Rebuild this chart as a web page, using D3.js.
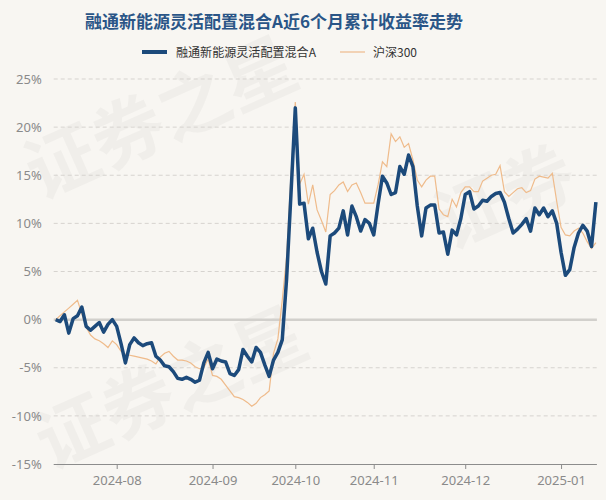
<!DOCTYPE html>
<html>
<head>
<meta charset="utf-8">
<script src="https://cdn.jsdelivr.net/npm/d3@7"></script>
<style>
  html, body { margin: 0; padding: 0; background: #f8f6f2; }
  #container { width: 606px; height: 500px; }
  text { font-family: "Noto Sans CJK SC", "Noto Sans", sans-serif; }
</style>
</head>
<body>
<div id="container"></div>
<script>
const title = "融通新能源灵活配置混合A近6个月累计收益率走势";
const seriesNames = ["融通新能源灵活配置混合A", "沪深300"];
const firstDay = "2024-07-12";
const lastDay = "2025-01-14";
const holidays = ["2024-09-16", "2024-09-17", "2024-10-01", "2024-10-02", "2024-10-03",
  "2024-10-04", "2024-10-07", "2025-01-01"];
const yTicks = [-15, -10, -5, 0, 5, 10, 15, 20, 25];

// cumulative return of the fund, % (one value per trading day)
const fundValues = [
  0.0, -0.2, 0.5, -1.4, 0.1, 0.4, 1.3, -0.7, -1.1, -0.7,
  -0.3, -1.3, -0.5, 0.0, -0.7, -2.5, -4.5, -2.6, -1.9, -2.4,
  -2.7, -2.5, -2.4, -3.8, -4.2, -4.8, -4.9, -5.4, -6.1, -6.2,
  -6.0, -6.2, -6.5, -6.3, -4.5, -3.4, -5.1, -4.1, -4.3, -4.4,
  -5.6, -5.8, -5.2, -3.1, -3.8, -4.4, -2.9, -3.4, -4.7, -5.9,
  -4.2, -3.4, -2.1, 4.2, 13.0, 22.0, 12.0, 12.1, 8.4, 9.5,
  7.0, 5.0, 3.7, 8.7, 9.0, 9.5, 11.3, 8.8, 11.8, 10.7,
  9.2, 10.4, 10.0, 8.8, 12.0, 14.9, 14.2, 13.0, 13.2, 15.9,
  15.1, 17.1, 15.9, 11.8, 8.7, 11.6, 11.9, 11.9, 9.0, 9.1,
  6.8, 9.3, 8.8, 10.5, 13.0, 13.3, 11.5, 11.8, 12.4, 12.3,
  12.8, 13.1, 13.2, 12.2, 10.5, 9.0, 9.4, 9.9, 10.5, 9.2,
  11.6, 10.9, 11.6, 10.7, 11.3, 10.0, 7.0, 4.6, 5.2, 7.5,
  9.0, 9.8, 9.2, 7.6, 12.2
];

// cumulative return of CSI 300, %
const indexValues = [
  0.0, 0.4, 0.8, 1.2, 1.6, 2.0, 0.6, -0.8, -1.6, -2.0,
  -2.2, -2.5, -2.9, -2.2, -2.6, -3.3, -3.6, -3.7, -3.8, -3.9,
  -4.0, -4.1, -4.3, -4.6, -3.9, -3.5, -3.3, -3.8, -4.2, -4.2,
  -4.3, -4.5, -4.9, -5.1, -5.0, -4.1, -5.8, -5.9, -6.2, -6.8,
  -7.4, -8.0, -8.1, -8.3, -8.6, -9.0, -8.7, -8.1, -7.8, -7.4,
  -3.5, -2.0, 2.0, 6.5, 15.0, 22.6, 14.1, 15.1, 12.0, 14.0,
  11.4, 10.3, 9.1, 13.0, 13.4, 14.0, 14.3, 13.3, 14.0, 14.2,
  13.2, 12.1, 12.1, 12.1, 14.0, 16.4, 15.9, 19.3, 18.5, 19.0,
  17.9, 18.3, 16.6, 14.5, 13.8, 14.5, 14.9, 14.9, 11.5, 10.9,
  10.7, 12.5, 11.7, 13.2, 13.8, 13.8, 13.3, 13.3, 14.4, 14.7,
  15.0, 15.1, 16.0, 13.3, 12.8, 13.2, 13.6, 13.7, 13.2, 13.4,
  14.6, 14.9, 14.8, 14.7, 15.2, 12.3, 9.6, 8.8, 8.7, 9.2,
  9.5, 9.0, 8.1, 7.4, 8.0
];

const fmt = d3.timeFormat("%Y-%m-%d");
const parse = d3.timeParse("%Y-%m-%d");
let tradingDays = d3.timeDays(parse(firstDay), d3.timeDay.offset(parse(lastDay), 1))
  .filter(d => d.getDay() != 0 && d.getDay() != 6 && !holidays.includes(fmt(d)))
  .map(fmt);

const width = 606, height = 500;
const plotLeft = 55.7, plotRight = 595.9, plotTop = 79, plotBottom = 464;

const svg = d3.select("#container")
  .append("svg")
  .attr("width", width)
  .attr("height", height)
  .style("background", "#f8f6f2");

// faint watermark
let wm = svg.append("g").attr("fill", "#000").attr("fill-opacity", 0.03)
  .style("font-size", "72px").style("font-weight", "bold");
wm.append("text").attr("transform", "translate(40,200) rotate(-24)").text("证券之星");
wm.append("text").attr("transform", "translate(50,470) rotate(-24)").text("证券之星");
wm.append("text").attr("transform", "translate(450,250) rotate(-24)").text("证券");

let x = d3.scalePoint().domain(tradingDays).range([plotLeft, plotRight]);
let y = d3.scaleLinear().domain([-15, 25]).range([plotBottom, plotTop]);

// title
svg.append("text")
  .attr("x", 274).attr("y", 28)
  .attr("text-anchor", "middle")
  .style("font-size", "17px").style("font-weight", "bold")
  .attr("fill", "#2a5587")
  .text(title);

// legend
let legend = svg.append("g");
legend.append("line").attr("x1", 142).attr("x2", 167).attr("y1", 52).attr("y2", 52)
  .attr("stroke", "#1c4a7b").attr("stroke-width", 4);
legend.append("text").attr("x", 176).attr("y", 56.5).style("font-size", "12px").attr("fill", "#333")
  .attr("textLength", 140).attr("lengthAdjust", "spacingAndGlyphs")
  .text(seriesNames[0]);
legend.append("line").attr("x1", 340).attr("x2", 365).attr("y1", 52).attr("y2", 52)
  .attr("stroke", "#efbb8b").attr("stroke-width", 1.2);
legend.append("text").attr("x", 373).attr("y", 56.5).style("font-size", "12px").attr("fill", "#333")
  .text(seriesNames[1]);

// grid
svg.append("g").selectAll("line")
  .data(yTicks.filter(t => t != 0 && t != -15))
  .join("line")
  .attr("x1", plotLeft - 2).attr("x2", plotRight + 1)
  .attr("y1", d => y(d)).attr("y2", d => y(d))
  .attr("stroke", "#d6d3cf").attr("stroke-dasharray", "4,3").attr("stroke-width", 1);

svg.append("line")
  .attr("x1", plotLeft - 2).attr("x2", plotRight + 1)
  .attr("y1", y(0)).attr("y2", y(0))
  .attr("stroke", "#d2d0cc").attr("stroke-width", 2.5);

// y axis labels
let yAxis = svg.append("g")
  .attr("transform", `translate(${plotLeft - 11},0)`)
  .call(d3.axisLeft(y).tickValues(yTicks).tickFormat(d => d + "%").tickSize(0));
yAxis.select(".domain").remove();
yAxis.selectAll("text").style("font-size", "13px").attr("fill", "#8a8a8a")
  .style("font-family", "'Noto Sans', sans-serif");

// x axis
let monthStarts = tradingDays.filter((d, i) => i > 0 && d.slice(5, 7) != tradingDays[i - 1].slice(5, 7));
let xAxis = svg.append("g")
  .attr("transform", `translate(0,${plotBottom})`)
  .call(d3.axisBottom(x).tickValues(monthStarts).tickFormat(d => d.slice(0, 7)).tickSize(5).tickSizeOuter(0).tickPadding(7));
xAxis.select(".domain").attr("d", `M${plotLeft - 2},0.5H${plotRight + 1}`).attr("stroke", "#8c8c8c");
xAxis.selectAll(".tick line").attr("stroke", "#8c8c8c");
xAxis.selectAll("text").style("font-size", "13px").attr("fill", "#8a8a8a")
  .style("font-family", "'Noto Sans', sans-serif");

// lines
let line = d3.line()
  .x((d, i) => x(tradingDays[i]))
  .y(d => y(d));

svg.append("path")
  .datum(indexValues)
  .attr("d", line)
  .attr("fill", "none")
  .attr("stroke", "#efbb8b")
  .attr("stroke-width", 1.2);

svg.append("path")
  .datum(fundValues)
  .attr("d", line)
  .attr("fill", "none")
  .attr("stroke", "#1c4a7b")
  .attr("stroke-width", 3.5)
  .attr("stroke-linejoin", "round");
</script>
</body>
</html>
